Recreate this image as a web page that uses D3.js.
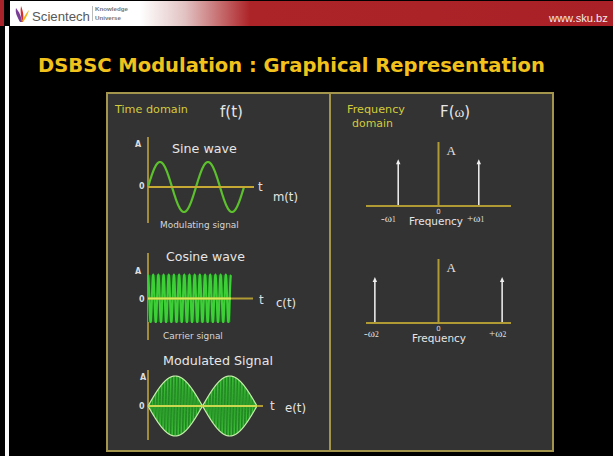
<!DOCTYPE html>
<html><head><meta charset="utf-8">
<script src="https://cdn.jsdelivr.net/npm/d3@7"></script>
<style>html,body{margin:0;padding:0;background:#000;overflow:hidden}</style>
</head><body><svg id="c" width="613" height="456"></svg>
<script>
// ---------- data ----------
const titleText = "DSBSC Modulation : Graphical Representation";
const waveTitles = ["Sine wave", "Cosine wave", "Modulated Signal"];
const waveCaptions = ["Modulating signal", "Carrier signal", ""];
const waveSymbols = ["m(t)", "c(t)", "e(t)"];
const messageCycles = [2];            // cycles of m(t) shown
const carrierCycles = [16];           // cycles of c(t) shown
const envelopeCycles = [1];           // envelope cycles of e(t)
const modCarrierCycles = [36];        // carrier cycles inside e(t)
const spectrumOmega = [1, 1.58];      // ω1, ω2 (relative frequency)
const spectrumAmp = [0.73, 0.72];     // arrow heights (relative to axis)
const spectrumSub = ["1", "2"];

// ---------- helpers ----------
const svg = d3.select("#c");
const FONT = "DejaVu Sans, Verdana, sans-serif";
function txt(g, x, y, s, o = {}) {
  const t = g.append("text").attr("x", x).attr("y", y)
    .attr("font-family", o.family || FONT)
    .attr("font-size", o.size || 12)
    .attr("font-weight", o.weight || "normal")
    .attr("fill", o.fill || "#e4e4e4")
    .text(s);
  if (o.w) {
    const w = t.node().getComputedTextLength();
    if (w > 0) t.attr("font-size", (o.size || 12) * o.w / w);
  }
  return t;
}

// ---------- background / header ----------
svg.append("rect").attr("width", 613).attr("height", 456).attr("fill", "#000");
const defs = svg.append("defs");
const hg = defs.append("linearGradient").attr("id", "hg")
  .attr("gradientUnits", "userSpaceOnUse").attr("x1", 10).attr("x2", 613).attr("y1", 0).attr("y2", 0);
hg.append("stop").attr("offset", (140 - 10) / 603).attr("stop-color", "#ffffff");
hg.append("stop").attr("offset", (185 - 10) / 603).attr("stop-color", "#e2c2c2");
hg.append("stop").attr("offset", (250 - 10) / 603).attr("stop-color", "#ad2428");
hg.append("stop").attr("offset", 1).attr("stop-color", "#a92126");
svg.append("rect").attr("x", 10).attr("y", 1).attr("width", 603).attr("height", 25).attr("fill", "url(#hg)");
svg.append("rect").attr("x", 0).attr("y", 0).attr("width", 4).attr("height", 26).attr("fill", "#a8232a");
svg.append("rect").attr("x", 5).attr("y", 26).attr("width", 4).attr("height", 430).attr("fill", "#fafafa");

// logo
const logo = svg.append("g");
logo.append("path").attr("d", "M16,8 C19,12 21,15 22,22 L20,22 C17,16 15,13 16,8Z").attr("fill", "#7a3d98");
logo.append("path").attr("d", "M21,6 C23,11 24,15 23,22 L22,22 C21,16 20,11 21,6Z").attr("fill", "#d62e2e");
logo.append("path").attr("d", "M29,10 C28,14 26,18 23,22 L22,21 C24,17 26,13 29,10Z").attr("fill", "#f2b619");
txt(svg, 32, 21, "Scientech", { family: "Liberation Sans, Arial, sans-serif", size: 15, fill: "#585858", w: 58 });
svg.append("line").attr("x1", 92.5).attr("x2", 92.5).attr("y1", 6).attr("y2", 21).attr("stroke", "#bbb");
txt(svg, 95, 11, "Knowledge", { family: "Liberation Sans, Arial, sans-serif", size: 6.5, weight: "bold", fill: "#777", w: 33 });
txt(svg, 95, 19.5, "Universe", { family: "Liberation Sans, Arial, sans-serif", size: 6.5, weight: "bold", fill: "#777", w: 26 });
txt(svg, 549, 22, "www.sku.bz", { family: "Liberation Sans, Arial, sans-serif", size: 11, fill: "#f4e8e8", w: 59 });

// title
txt(svg, 38, 72, titleText, { size: 22, weight: "bold", fill: "#f2c21c", w: 507 });

// ---------- panel ----------
const border = "#a3954c";
svg.append("rect").attr("x", 107).attr("y", 93).attr("width", 446).attr("height", 358)
  .attr("fill", "#333333").attr("stroke", border).attr("stroke-width", 2);
svg.append("line").attr("x1", 330).attr("x2", 330).attr("y1", 93).attr("y2", 451)
  .attr("stroke", border).attr("stroke-width", 2);

txt(svg, 115, 113, "Time domain", { size: 11, fill: "#d3cb3c", w: 73 });
txt(svg, 220, 117, "f(t)", { size: 15, fill: "#e6e6e6", w: 23 });
txt(svg, 347, 113, "Frequency", { size: 11, fill: "#d3cb3c", w: 58 });
txt(svg, 352, 127, "domain", { size: 11, fill: "#d3cb3c", w: 41 });
const Fw = svg.append("text").attr("x", 440).attr("y", 117).attr("font-size", 15)
  .attr("font-family", FONT).attr("fill", "#e6e6e6");
Fw.append("tspan").text("F(");
Fw.append("tspan").attr("font-family", "Liberation Serif, serif").text("ω");
Fw.append("tspan").text(")");

const axisGold = "#b09a34", axisV = "#a08c3a", axisLight = "#d4ec5a";
const N = 1200;
const ts = d3.range(N + 1).map(i => i / N);

// ---------- sine wave m(t) ----------
const g1 = svg.append("g");
const sx = d3.scaleLinear().domain([0, 1]).range([148, 244]);
const sy = d3.scaleLinear().domain([-1, 1]).range([212, 162]);
g1.append("line").attr("x1", sx(0)).attr("x2", sx(0)).attr("y1", 137).attr("y2", 223).attr("stroke", axisV).attr("stroke-width", 2);
g1.append("path").attr("d", d3.line().x(t => sx(t)).y(t => sy(Math.sin(2 * Math.PI * messageCycles[0] * t)))(ts))
  .attr("fill", "none").attr("stroke", "#5cc12c").attr("stroke-width", 2.2);
g1.append("line").attr("x1", sx(0)).attr("x2", 254).attr("y1", sy(0)).attr("y2", sy(0)).attr("stroke", "#c6a834").attr("stroke-width", 2);
txt(g1, 172, 153, waveTitles[0], { size: 13, fill: "#e6e6e6", w: 65 });
txt(g1, 135, 147, "A", { size: 8, weight: "bold", fill: "#ddd" });
txt(g1, 139, 189, "0", { size: 8, weight: "bold", fill: "#ddd" });
txt(g1, 258, 191, "t", { size: 12, fill: "#ddd" });
txt(g1, 273, 201, waveSymbols[0], { size: 12, fill: "#e6e6e6", w: 25 });
txt(g1, 160, 228, waveCaptions[0], { size: 8, fill: "#d6d6d6", w: 79 });

// ---------- cosine carrier c(t) ----------
const g2 = svg.append("g");
const cx = d3.scaleLinear().domain([0, 1]).range([148, 231]);
const cy = d3.scaleLinear().domain([-1, 1]).range([322, 275]);
g2.append("line").attr("x1", cx(0)).attr("x2", cx(0)).attr("y1", 253).attr("y2", 340).attr("stroke", axisV).attr("stroke-width", 2);
g2.append("rect").attr("x", cx(0)).attr("y", cy(1)).attr("width", cx(1) - cx(0)).attr("height", cy(-1) - cy(1)).attr("fill", "#235c25");
g2.append("path").attr("d", d3.line().x(t => cx(t)).y(t => cy(Math.cos(2 * Math.PI * carrierCycles[0] * t)))(ts))
  .attr("fill", "none").attr("stroke", "#3ccf36").attr("stroke-width", 2.2);
g2.append("line").attr("x1", cx(0)).attr("x2", 253).attr("y1", cy(0)).attr("y2", cy(0)).attr("stroke", axisGold).attr("stroke-width", 2);
g2.append("line").attr("x1", cx(0)).attr("x2", cx(1)).attr("y1", cy(0)).attr("y2", cy(0)).attr("stroke", axisLight).attr("stroke-width", 1.8);
txt(g2, 166, 261, waveTitles[1], { size: 13, fill: "#e6e6e6", w: 79 });
txt(g2, 135, 274, "A", { size: 8, weight: "bold", fill: "#ddd" });
txt(g2, 139, 302, "0", { size: 8, weight: "bold", fill: "#ddd" });
txt(g2, 259, 304, "t", { size: 12, fill: "#ddd" });
txt(g2, 276, 307, waveSymbols[1], { size: 12, fill: "#e6e6e6", w: 20 });
txt(g2, 163, 339, waveCaptions[1], { size: 8, fill: "#d6d6d6", w: 60 });

// ---------- modulated e(t) ----------
const g3 = svg.append("g");
const mx = d3.scaleLinear().domain([0, 1]).range([148, 257]);
const my = d3.scaleLinear().domain([-1, 1]).range([436, 376]);
g3.append("line").attr("x1", mx(0)).attr("x2", mx(0)).attr("y1", 370).attr("y2", 440).attr("stroke", axisV).attr("stroke-width", 2);
const env = t => Math.sin(2 * Math.PI * envelopeCycles[0] * t);
g3.append("path").attr("d", d3.area().x(t => mx(t)).y0(t => my(-Math.abs(env(t)))).y1(t => my(Math.abs(env(t))))(ts))
  .attr("fill", "#39b935");
g3.append("path").attr("d", d3.line().x(t => mx(t)).y(t => my(env(t) * Math.cos(2 * Math.PI * modCarrierCycles[0] * t)))(ts))
  .attr("fill", "none").attr("stroke", "#1d7a1f").attr("stroke-width", 0.8);
g3.append("path").attr("d", d3.line().x(t => mx(t)).y(t => my(Math.abs(env(t))))(ts)).attr("fill", "none").attr("stroke", "#c4eeaa").attr("stroke-width", 1.2);
g3.append("path").attr("d", d3.line().x(t => mx(t)).y(t => my(-Math.abs(env(t))))(ts)).attr("fill", "none").attr("stroke", "#c4eeaa").attr("stroke-width", 1.2);
g3.append("line").attr("x1", mx(0)).attr("x2", 263).attr("y1", my(0)).attr("y2", my(0)).attr("stroke", axisGold).attr("stroke-width", 2);
g3.append("line").attr("x1", mx(0)).attr("x2", mx(1)).attr("y1", my(0)).attr("y2", my(0)).attr("stroke", axisLight).attr("stroke-width", 1.5);
txt(g3, 163, 365, waveTitles[2], { size: 13, fill: "#e6e6e6", w: 110 });
txt(g3, 140, 380, "A", { size: 8, weight: "bold", fill: "#ddd" });
txt(g3, 139, 409, "0", { size: 8, weight: "bold", fill: "#ddd" });
txt(g3, 270, 410, "t", { size: 12, fill: "#ddd" });
txt(g3, 285, 412, waveSymbols[2], { size: 12, fill: "#e6e6e6", w: 21 });

// ---------- spectra ----------
const fx = d3.scaleLinear().domain([-1.8, 1.8]).range([366, 511]);
const specAxisY = [206, 323];
const labelY = [222, 337];
spectrumOmega.forEach((w, i) => {
  const g = svg.append("g");
  const fy = d3.scaleLinear().domain([0, 1]).range([specAxisY[i], specAxisY[i] - 64]);
  g.append("line").attr("x1", fx(0)).attr("x2", fx(0)).attr("y1", fy(0)).attr("y2", fy(1)).attr("stroke", axisGold).attr("stroke-width", 2);
  [-w, w].forEach(f => {
    g.append("line").attr("x1", fx(f)).attr("x2", fx(f)).attr("y1", fy(0)).attr("y2", fy(spectrumAmp[i]) + 3)
      .attr("stroke", "#e8e8e8").attr("stroke-width", 1.6);
    const tx = fx(f), ty = fy(spectrumAmp[i]);
    g.append("path").attr("d", `M${tx},${ty} L${tx - 2.2},${ty + 5} L${tx + 2.2},${ty + 5}Z`).attr("fill", "#f0f0f0");
  });
  g.append("line").attr("x1", fx(-1.8)).attr("x2", fx(1.8)).attr("y1", fy(0)).attr("y2", fy(0)).attr("stroke", axisGold).attr("stroke-width", 2);
  txt(g, fx(0) + 8, fy(0) - 51, "A", { size: 13, family: "Liberation Serif, serif", fill: "#e2e2e2" });
  txt(g, fx(0) - 2.2, fy(0) + 7.5, "0", { size: 7, fill: "#ddd" });
  const neg = g.append("text").attr("x", i === 0 ? 381 : 364).attr("y", labelY[i]).attr("font-size", 11)
    .attr("font-family", "Liberation Serif, serif").attr("fill", "#e2e2e2");
  neg.append("tspan").text("-ω");
  neg.append("tspan").attr("font-size", 7.5).text(spectrumSub[i]);
  const pos = g.append("text").attr("x", i === 0 ? 467 : 489).attr("y", labelY[i]).attr("font-size", 11)
    .attr("font-family", "Liberation Serif, serif").attr("fill", "#e2e2e2");
  pos.append("tspan").text("+ω");
  pos.append("tspan").attr("font-size", 7.5).text(spectrumSub[i]);
  txt(g, i === 0 ? 409 : 412, i === 0 ? 225 : 342, "Frequency", { size: 11, fill: "#e6e6e6", w: 54 });
});
</script></body></html>
